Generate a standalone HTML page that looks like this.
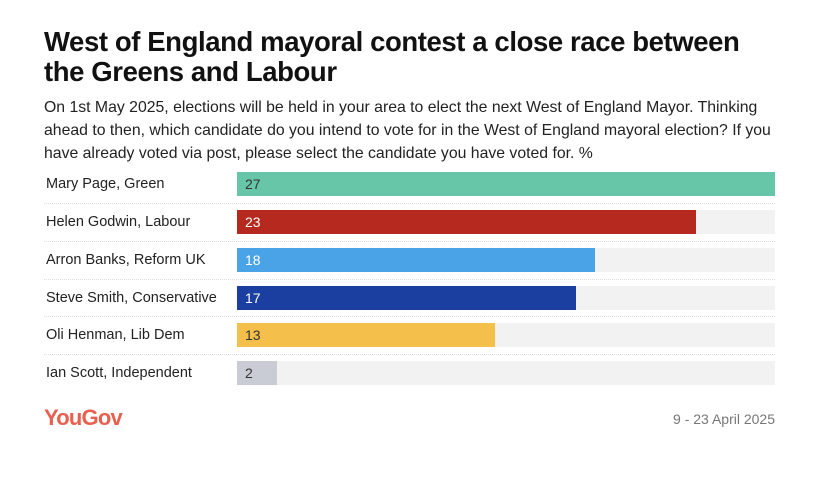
<!DOCTYPE html>
<html><head><style>
body{margin:0;width:828px;height:498px;background:#fff;font-family:"Liberation Sans",sans-serif;position:relative;overflow:hidden;color:#111}
.t{position:absolute;left:44px;top:27px;font-size:27.5px;font-weight:bold;line-height:30px;width:790px;letter-spacing:-0.4px;white-space:nowrap}
.s{position:absolute;left:44px;top:96px;font-size:15.8px;line-height:23px;width:780px;color:#222;white-space:nowrap}
.row{position:absolute;left:44px;width:731px;height:24px}
.lab{position:absolute;left:2px;top:4px;font-size:14.5px;color:#222}
.bg{position:absolute;left:193px;top:0;width:538px;height:24px;background:#f2f2f2}
.bar{position:absolute;left:193px;top:0;height:24px;font-size:14px;line-height:24px;text-indent:8px;color:#fff}
.sep{position:absolute;left:44px;width:731px;border-top:1px dotted #ddd}
.yg{position:absolute;left:44px;top:405px;font-size:22px;font-weight:bold;color:#e8604f;letter-spacing:-0.8px}
.d{position:absolute;right:53px;top:411px;font-size:14px;color:#777}
</style></head><body>
<div class="t">West of England mayoral contest a close race between<br>the Greens and Labour</div>
<div class="s">On 1st May 2025, elections will be held in your area to elect the next West of England Mayor. Thinking<br>ahead to then, which candidate do you intend to vote for in the West of England mayoral election? If you<br>have already voted via post, please select the candidate you have voted for. %</div>

<div class="row" style="top:172px"><div class="lab">Mary Page, Green</div><div class="bg"></div><div class="bar" style="width:538px;background:#67c6a8;color:#333">27</div></div>
<div class="sep" style="top:203px"></div>
<div class="row" style="top:210px"><div class="lab">Helen Godwin, Labour</div><div class="bg"></div><div class="bar" style="width:459px;background:#b5291e">23</div></div>
<div class="sep" style="top:241px"></div>
<div class="row" style="top:248px"><div class="lab">Arron Banks, Reform UK</div><div class="bg"></div><div class="bar" style="width:358px;background:#4aa3e6">18</div></div>
<div class="sep" style="top:279px"></div>
<div class="row" style="top:286px"><div class="lab">Steve Smith, Conservative</div><div class="bg"></div><div class="bar" style="width:339px;background:#1b3fa0">17</div></div>
<div class="sep" style="top:316px"></div>
<div class="row" style="top:323px"><div class="lab">Oli Henman, Lib Dem</div><div class="bg"></div><div class="bar" style="width:258px;background:#f4bf4a;color:#333">13</div></div>
<div class="sep" style="top:354px"></div>
<div class="row" style="top:361px"><div class="lab">Ian Scott, Independent</div><div class="bg"></div><div class="bar" style="width:40px;background:#c9ccd4;color:#333">2</div></div>

<div class="yg">YouGov</div>
<div class="d">9 - 23 April 2025</div>
</body></html>
